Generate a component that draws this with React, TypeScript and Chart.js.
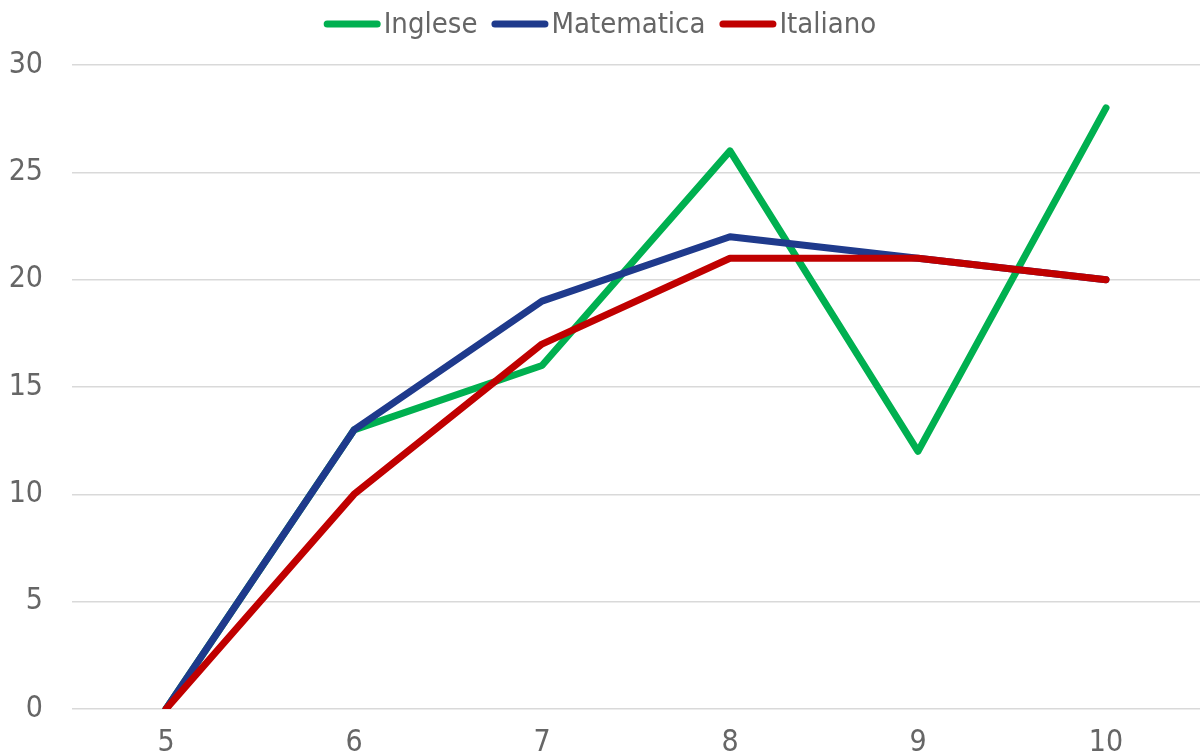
import React, { useEffect, useRef } from "react";
import { Chart, registerables } from "chart.js";

Chart.register(...registerables);

const categories = ["5", "6", "7", "8", "9", "10"];
const inglese = [0, 13, 16, 26, 12, 28];
const matematica = [0, 13, 19, 22, 21, 20];
const italiano = [0, 10, 17, 21, 21, 20];

const FONT = "'DejaVu Sans Condensed', 'DejaVu Sans', sans-serif";
const TEXT = "#666666";

const legendPlugin = {
  id: "lineLegend",
  afterDraw(chart: any) {
    const ctx = chart.ctx as CanvasRenderingContext2D;
    const ds = chart.data.datasets;
    const lineW = 57;
    const gapText = 3;
    const gapItem = 14;
    const y = 24;
    ctx.save();
    ctx.font = `29px ${FONT}`;
    ctx.textBaseline = "middle";
    const widths = ds.map((d: any) => lineW + gapText + ctx.measureText(d.label).width);
    const total = widths.reduce((a: number, b: number) => a + b, 0) + gapItem * (ds.length - 1);
    let x = (chart.width - total) / 2;
    ds.forEach((d: any, i: number) => {
      ctx.strokeStyle = d.borderColor;
      ctx.lineWidth = 7;
      ctx.lineCap = "round";
      ctx.beginPath();
      ctx.moveTo(x + 3.5, y);
      ctx.lineTo(x + lineW - 3.5, y);
      ctx.stroke();
      ctx.fillStyle = TEXT;
      ctx.fillText(d.label, x + lineW + gapText, y + 1);
      x += widths[i] + gapItem;
    });
    ctx.restore();
  },
};

export default function App() {
  const ref = useRef<HTMLCanvasElement | null>(null);

  useEffect(() => {
    document.body.style.margin = "0";
    const ctx = ref.current!;
    const chart = new Chart(ctx, {
      type: "line",
      data: {
        labels: categories,
        datasets: [
          { label: "Inglese", data: inglese, borderColor: "#00B050", backgroundColor: "#00B050", order: 2 },
          { label: "Matematica", data: matematica, borderColor: "#1F3A8C", backgroundColor: "#1F3A8C", order: 1 },
          { label: "Italiano", data: italiano, borderColor: "#C00000", backgroundColor: "#C00000", order: 0 },
        ].map((d) => ({
          ...d,
          borderWidth: 7,
          pointRadius: 0,
          pointHoverRadius: 0,
          tension: 0,
          borderJoinStyle: "round" as const,
          borderCapStyle: "round" as const,
          fill: false,
        })),
      },
      options: {
        animation: false,
        responsive: false,
        maintainAspectRatio: false,
        layout: { padding: { top: 65, right: 0, bottom: 0, left: 0 } },
        plugins: {
          tooltip: { enabled: false },
          legend: { display: false },
        },
        scales: {
          x: {
            offset: true,
            grid: { display: false, drawTicks: false },
            border: { display: false },
            ticks: { color: TEXT, font: { family: FONT, size: 30 }, padding: 16, maxRotation: 0 },
            afterFit: (s: any) => { s.height = 60; },
          },
          y: {
            min: 0,
            max: 30,
            grid: { color: "#D9D9D9", lineWidth: 1.5, drawTicks: false },
            border: { display: false },
            ticks: { stepSize: 5, color: TEXT, font: { family: FONT, size: 30 }, padding: 29 },
            afterFit: (s: any) => { s.width = 72; },
          },
        },
      },
      plugins: [legendPlugin],
    });
    return () => chart.destroy();
  }, []);

  return (
    <div style={{ position: "absolute", left: 0, top: 0, width: 1200, height: 769 }}>
      <canvas ref={ref} width={1200} height={769} style={{ display: "block" }} />
    </div>
  );
}
